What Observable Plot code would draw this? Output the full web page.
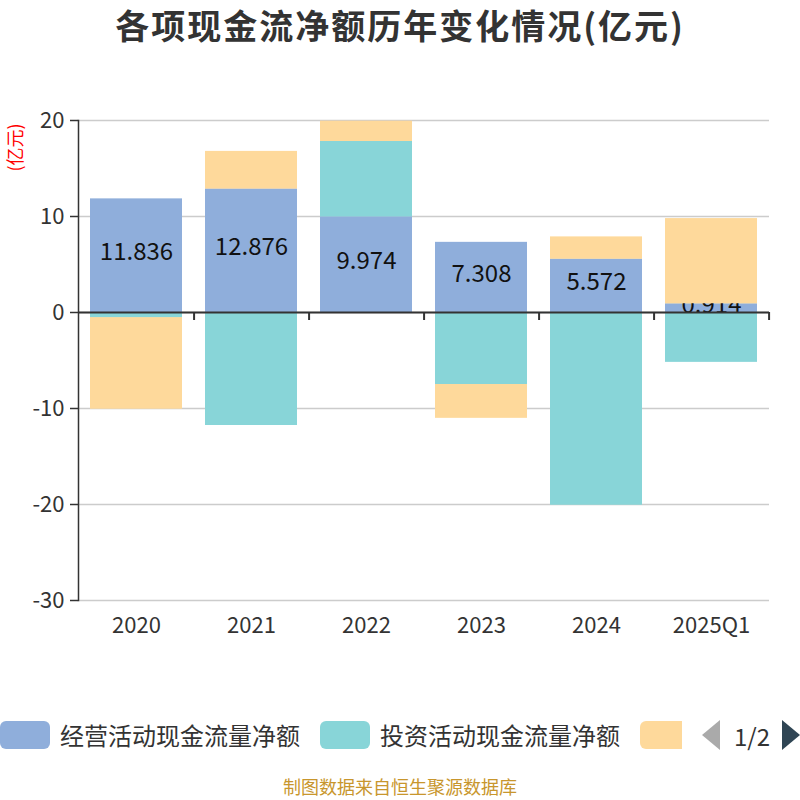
<!DOCTYPE html>
<html>
<head>
<meta charset="utf-8">
<script src="https://cdn.jsdelivr.net/npm/d3@7"></script>
<script src="https://cdn.jsdelivr.net/npm/@observablehq/plot@0.6"></script>
<style>
  html, body { margin: 0; padding: 0; background: #fff; }
  body { width: 800px; height: 800px; position: relative; overflow: hidden;
         font-family: "Noto Sans CJK SC", "Noto Sans", sans-serif; color: #333; }
  #title { position: absolute; left: 0; top: 0; width: 800px; height: 50px; line-height: 50px;
           text-align: center; font-size: 34px; font-weight: bold; letter-spacing: 2px; color: #333; }
  #chart { position: absolute; left: 0; top: 60px; }
  #legend { position: absolute; left: 0; top: 716px; width: 682px; height: 38px; overflow: hidden;
            display: flex; gap: 20px; white-space: nowrap; align-items: center; }
  .item { display: flex; align-items: center; gap: 10px; flex: none; }
  .sw { width: 50px; height: 28px; border-radius: 6px; flex: none; }
  .lt { font-size: 24px; line-height: 34px; color: #333; }
  #pager { position: absolute; left: 700px; top: 715px; height: 40px; width: 100px; overflow: visible; }
  #footer { position: absolute; left: 0; top: 774px; width: 800px; text-align: center;
            font-size: 18px; line-height: 24px; color: #C8962D; }
</style>
</head>
<body>
<div id="title"></div>
<div id="chart"></div>
<div id="legend"></div>
<svg id="pager" width="100" height="40" viewBox="0 0 100 40">
  <polygon points="20,5 20,35 2,20" fill="#aaa"></polygon>
  <text x="52" y="20" dominant-baseline="central" text-anchor="middle" font-size="24" fill="#333" font-family="Noto Sans CJK SC">1/2</text>
  <polygon points="82,5 82,35 100,20" fill="#2f4554"></polygon>
</svg>
<div id="footer"></div>
<script>
const titleText = "各项现金流净额历年变化情况(亿元)";
const unitText = "(亿元)";
const footerText = "制图数据来自恒生聚源数据库";
const years = ["2020", "2021", "2022", "2023", "2024", "2025Q1"];
const seriesNames = ["经营活动现金流量净额", "投资活动现金流量净额", "筹资活动现金流量净额"];
const operating = [11.836, 12.876, 9.974, 7.308, 5.572, 0.914];
const investing = [-0.55, -11.77, 7.84, -7.5, -20.05, -5.17];
const financing = [-9.5, 3.9, 2.1, -3.5, 2.28, 8.85];
const colors = ["#8FAEDB", "#88D5D8", "#FED99B"];
const yTicks = [-30, -20, -10, 0, 10, 20];
// legend page 1 shows the labels of the first two series only
const legendShownLabels = 2;

document.getElementById("title").textContent = titleText;
document.getElementById("footer").textContent = footerText;

const seriesValues = [operating, investing, financing];
const data = [];
years.forEach((yr, i) => {
  seriesNames.forEach((s, j) => data.push({year: yr, series: s, value: seriesValues[j][i]}));
});
const opData = years.map((yr, i) => ({year: yr, value: operating[i]}));

const W = 800, H = 600, ML = 78, MR = 31, MT = 60, MB = 60;
const step = (W - ML - MR) / years.length;

const chart = Plot.plot({
  width: W, height: H,
  marginLeft: ML, marginRight: MR, marginTop: MT, marginBottom: MB,
  style: {fontFamily: '"Noto Sans CJK SC", "Noto Sans", sans-serif', background: "#fff"},
  x: {domain: years, paddingInner: 0.2, paddingOuter: 0.1, axis: null},
  y: {domain: [-30, 20], axis: null},
  color: {domain: seriesNames, range: colors},
  marks: [
    Plot.gridY(yTicks, {stroke: "#ccc", strokeOpacity: 1, strokeWidth: 1.5}),
    Plot.barY(data, Plot.stackY({x: "year", y: "value", fill: "series"})),
    Plot.text(opData, {x: "year", y: d => d.value / 2, text: d => d.value.toFixed(3),
      fontSize: 24, fill: "#111", lineAnchor: "middle", dy: -3}),
    Plot.barY(data, Plot.stackY({x: "year", y: "value", fill: "series",
      fillOpacity: d => d.series === seriesNames[0] ? 0 : 1})),
    Plot.ruleY([0], {stroke: "#333", strokeWidth: 2}),
    Plot.ruleX(years, {x: d => d, y1: 0, y2: 0, insetBottom: -8, dx: step / 2, stroke: "#333", strokeWidth: 2}),
    Plot.frame({anchor: "left", stroke: "#333", strokeWidth: 1.5}),
    Plot.axisY(yTicks, {tickSize: 8, tickPadding: 6, fontSize: 22, fill: "#333", stroke: "#333", strokeWidth: 1.5,
      label: null, tickFormat: d => String(d)}),
    Plot.axisX({tickSize: 0, tickPadding: 17, fontSize: 22, fill: "#333", label: null}),
    Plot.text([unitText], {frameAnchor: "top-left", dx: -62, dy: 27, rotate: -90,
      fill: "red", fontSize: 18, textAnchor: "middle", lineAnchor: "middle"})
  ]
});
document.getElementById("chart").appendChild(chart);

const legend = document.getElementById("legend");
seriesNames.forEach((s, j) => {
  const it = document.createElement("div");
  it.className = "item";
  const sw = document.createElement("div");
  sw.className = "sw";
  sw.style.background = colors[j];
  it.appendChild(sw);
  if (j < legendShownLabels) {
    const t = document.createElement("span");
    t.className = "lt";
    t.textContent = s;
    it.appendChild(t);
  }
  legend.appendChild(it);
});
</script>
</body>
</html>
